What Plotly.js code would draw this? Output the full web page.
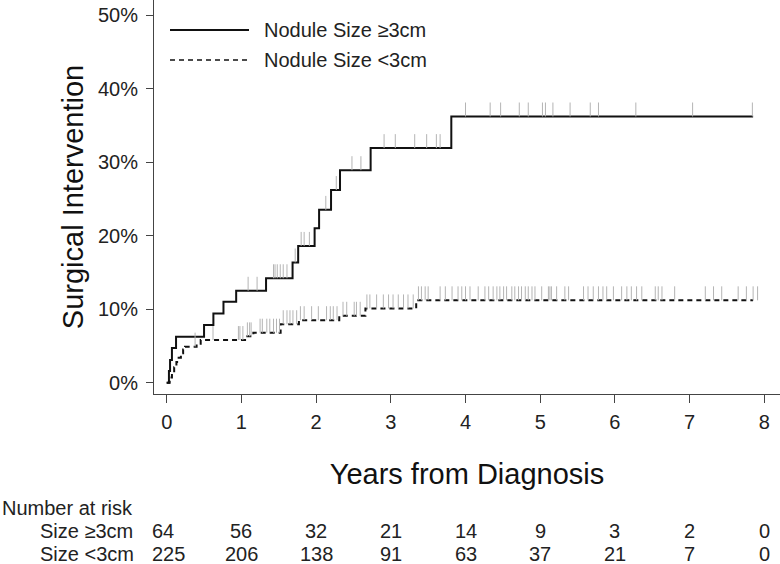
<!DOCTYPE html>
<html>
<head>
<meta charset="utf-8">
<script src="https://cdn.plot.ly/plotly-3.0.1.min.js"></script>
<style>html,body{margin:0;padding:0;background:#fff;}#chart{width:780px;height:564px;}</style>
</head>
<body>
<div id="chart"></div>
<script>
// ---- Data ----
// Cumulative incidence, nodule size >= 3cm (step times in years, cumulative %)
const timesLarge = [0, 0.03, 0.045, 0.07, 0.125, 0.50, 0.625, 0.76, 0.93, 1.33, 1.685, 1.76, 1.98, 2.04, 2.20, 2.32, 2.73, 3.81, 7.85];
const cumLarge   = [0, 1.6, 3.1, 4.7, 6.25, 7.85, 9.4, 11.0, 12.5, 14.2, 16.35, 18.6, 21.0, 23.5, 26.2, 28.9, 31.9, 36.2, 36.2];
// Cumulative incidence, nodule size < 3cm
const timesSmall = [0, 0.04, 0.07, 0.10, 0.13, 0.16, 0.19, 0.22, 0.245, 0.40, 0.455, 1.08, 1.16, 1.525, 1.77, 2.31, 2.66, 3.34, 7.85];
const cumSmall   = [0, 0.7, 1.4, 2.1, 2.8, 3.4, 4.0, 4.5, 4.9, 5.3, 5.8, 6.3, 6.8, 7.95, 8.5, 9.1, 10.1, 11.2, 11.2];
// Censoring times
const censorLarge = [1.09, 1.21, 1.43, 1.45, 1.48, 1.52, 1.56, 1.61, 1.72, 1.80, 1.84, 1.91, 2.13, 2.27, 2.48, 2.60, 2.91, 3.06, 3.32, 3.48, 3.61, 3.66, 4.00, 4.33, 4.47, 4.72, 4.84, 5.03, 5.07, 5.17, 5.40, 5.67, 5.78, 6.28, 7.04, 7.84];
const censorSmall = [0.38, 0.62, 0.96, 0.98, 1.02, 1.08, 1.11, 1.13, 1.25, 1.28, 1.34, 1.38, 1.43, 1.47, 1.51, 1.56, 1.61, 1.65, 1.69, 1.74, 1.79, 1.84, 1.94, 2.03, 2.14, 2.19, 2.23, 2.28, 2.36, 2.41, 2.51, 2.54, 2.59, 2.68, 2.72, 2.81, 2.90, 2.97, 3.03, 3.10, 3.17, 3.23, 3.30, 3.37, 3.41, 3.46, 3.50, 3.66, 3.73, 3.82, 3.90, 3.95, 4.00, 4.06, 4.17, 4.26, 4.31, 4.37, 4.42, 4.46, 4.51, 4.55, 4.62, 4.66, 4.71, 4.75, 4.80, 4.84, 4.89, 4.93, 5.02, 5.11, 5.13, 5.15, 5.22, 5.33, 5.38, 5.58, 5.64, 5.71, 5.78, 5.84, 5.89, 5.98, 6.09, 6.16, 6.22, 6.29, 6.36, 6.54, 6.58, 6.63, 6.80, 7.21, 7.32, 7.43, 7.65, 7.76, 7.85, 7.91];
// Axis ticks
const yTickVals = [0, 10, 20, 30, 40, 50];
const yTickText = ["0%", "10%", "20%", "30%", "40%", "50%"];
// Number at risk table
const riskYears = [0, 1, 2, 3, 4, 5, 6, 7, 8];
const riskLarge = [64, 56, 32, 21, 14, 9, 3, 2, 0];
const riskSmall = [225, 206, 138, 91, 63, 37, 21, 7, 0];
const seriesNames = ["Nodule Size \u22653cm", "Nodule Size <3cm"];
const riskLabels = ["Size \u22653cm", "Size <3cm"];

// ---- helpers ----
function stepValue(times, vals, t) {
  let v = vals[0];
  for (let i = 0; i < times.length; i++) { if (times[i] <= t) v = vals[i]; }
  return v;
}
const FONT = "Liberation Sans, Arial, Helvetica, sans-serif";
const W = 780, H = 564, ML = 154, MR = 0, MT = 0, MB = 170;
const PW = W - ML - MR, PH = H - MT - MB;
const pxX = px => (px - ML) / PW;          // page pixel -> paper x
const pxY = py => (MT + PH - py) / PH;      // page pixel -> paper y

const censorColor = "#b4b4b4";
const tickUp = 1.9;
const SMALL = 20;

const traces = [
  {x: timesLarge, y: cumLarge, type: "scatter", mode: "lines", line: {shape: "hv", color: "#111", width: 2}, name: seriesNames[0], showlegend: false, hoverinfo: "skip"},
  {x: timesSmall, y: cumSmall, type: "scatter", mode: "lines", line: {shape: "hv", color: "#111", width: 2, dash: "5px,4px"}, name: seriesNames[1], showlegend: false, hoverinfo: "skip"},
  {x: censorLarge, y: censorLarge.map(t => stepValue(timesLarge, cumLarge, t)), type: "scatter", mode: "markers",
   marker: {size: 1, color: "rgba(0,0,0,0)"}, showlegend: false, hoverinfo: "skip",
   error_y: {type: "constant", symmetric: false, value: tickUp, valueminus: 0, width: 0, thickness: 1, color: censorColor}},
  {x: censorSmall, y: censorSmall.map(t => stepValue(timesSmall, cumSmall, t)), type: "scatter", mode: "markers",
   marker: {size: 1, color: "rgba(0,0,0,0)"}, showlegend: false, hoverinfo: "skip",
   error_y: {type: "constant", symmetric: false, value: tickUp, valueminus: 0, width: 0, thickness: 1, color: censorColor}}
];

const annotations = [];
const txt = (text, x, y, xanchor, size, extra) => Object.assign({text: text, x: x, y: y, xref: "paper", yref: "paper", xanchor: xanchor, yanchor: "middle", showarrow: false, font: {family: FONT, size: size, color: "#222"}}, extra || {});

// legend (manual)
annotations.push(txt(seriesNames[0], pxX(262), pxY(30), "left", SMALL));
annotations.push(txt(seriesNames[1], pxX(262), pxY(60), "left", SMALL));

// risk table
annotations.push(txt("Number at risk", pxX(0), pxY(508), "left", SMALL));
annotations.push(txt(riskLabels[0], pxX(38), pxY(531), "left", SMALL));
annotations.push(txt(riskLabels[1], pxX(38), pxY(554), "left", SMALL));
[riskLarge, riskSmall].forEach((row, r) => {
  row.forEach((n, i) => {
    const a = txt(String(n), riskYears[i], pxY(r === 0 ? 531 : 554), i === 0 ? "left" : "center", SMALL, {xref: "x"});
    if (i === 0) a.xshift = -17;
    annotations.push(a);
  });
});

const shapes = [
  {type: "line", xref: "paper", yref: "paper", x0: pxX(170), x1: pxX(249), y0: pxY(30), y1: pxY(30), line: {color: "#111", width: 2}},
  {type: "line", xref: "paper", yref: "paper", x0: pxX(170), x1: pxX(249), y0: pxY(60), y1: pxY(60), line: {color: "#111", width: 1.5, dash: "5px,4px"}}
];

const layout = {
  width: W, height: H,
  margin: {l: ML, r: MR, t: MT, b: MB, pad: 0},
  paper_bgcolor: "#fff", plot_bgcolor: "#fff",
  font: {family: FONT, color: "#222"},
  showlegend: false,
  xaxis: {
    range: [-0.17, 8.21], tickmode: "array", tickvals: riskYears, ticktext: riskYears.map(String),
    showgrid: false, zeroline: false, showline: true, linecolor: "#444", linewidth: 1,
    ticks: "outside", ticklen: 8, tickcolor: "#444", tickwidth: 1, ticklabelstandoff: 2,
    tickfont: {family: FONT, size: SMALL, color: "#222"},
    title: {text: "Years from Diagnosis", font: {family: FONT, size: 29, color: "#111"}, standoff: 31},
    automargin: false, fixedrange: true
  },
  yaxis: {
    range: [-1.54, 52.04], tickmode: "array", tickvals: yTickVals, ticktext: yTickText,
    showgrid: false, zeroline: false, showline: true, linecolor: "#444", linewidth: 1,
    ticks: "outside", ticklen: 7, tickcolor: "#444", tickwidth: 1, ticklabelstandoff: 4,
    tickfont: {family: FONT, size: SMALL, color: "#222"},
    title: {text: "Surgical Intervention", font: {family: FONT, size: 29, color: "#111"}, standoff: 5},
    automargin: false, fixedrange: true
  },
  annotations: annotations,
  shapes: shapes
};

Plotly.newPlot("chart", traces, layout, {staticPlot: true, displayModeBar: false});
</script>
</body>
</html>
